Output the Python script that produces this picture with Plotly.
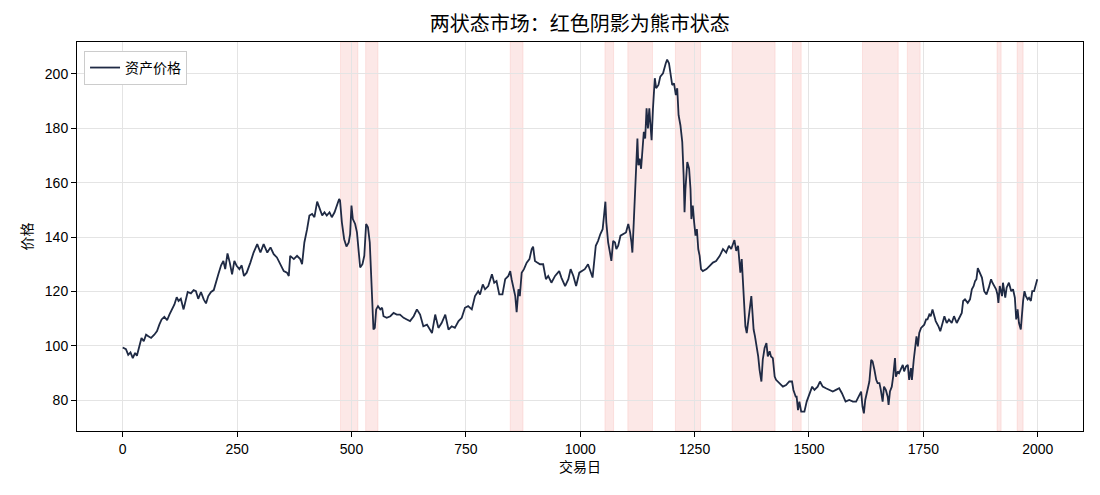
import plotly.graph_objects as go

# ---- data ----
days = [0, 7, 12, 17, 22, 27, 31, 36, 41, 46, 51, 56, 62, 69, 75, 80, 85, 91, 97, 102,
        108, 113, 118, 122, 127, 133, 142, 149, 155, 160, 165, 171, 177, 182, 187, 193,
        199, 204, 209, 215, 220, 224, 229, 234, 239, 244, 249, 255, 260, 265, 271,
        279, 286, 294, 301, 308, 316, 323, 330, 337, 345, 352, 359, 363, 366, 374, 381,
        388, 392, 397, 403, 408, 414, 419, 425, 430, 436, 441, 446, 452, 457, 463, 468,
        473, 475, 479, 484, 489, 494, 497, 500, 503, 508, 512, 516, 519, 524, 528, 532,
        536, 540, 543, 546, 548, 551, 554, 558, 563, 567, 570, 577, 585, 592, 599, 606,
        614, 621,
        628, 636, 643, 650, 657, 665, 672, 676, 683, 690, 697, 705, 712, 719, 726, 734,
        741, 748, 755, 763, 770, 777, 781, 787, 792, 799, 807, 812, 817, 823, 830, 836,
        843, 847, 850, 854, 858, 861, 865, 868, 872, 877, 883, 889, 894, 897, 901, 906,
        912, 919, 925, 930, 937, 945, 954, 959, 967, 974,
        979, 985, 991, 998, 1003, 1010, 1017, 1025, 1027, 1034, 1039, 1044, 1049, 1052,
        1055, 1057, 1061, 1065, 1068, 1072, 1076, 1079, 1083, 1088, 1094, 1100, 1105,
        1109, 1112, 1114, 1117, 1120, 1123, 1125, 1127, 1130, 1133, 1136, 1139, 1142,
        1145, 1148, 1151, 1153, 1156, 1159, 1163, 1166, 1171, 1175, 1181, 1187, 1190,
        1194, 1198, 1201, 1205, 1209, 1212, 1215, 1219, 1223, 1226, 1228, 1230, 1234,
        1238, 1241, 1243, 1246, 1249, 1252, 1255, 1258, 1261, 1264, 1268, 1276, 1283,
        1290, 1297, 1305, 1312, 1319,
        1325, 1330, 1337, 1341, 1345, 1348, 1350, 1353, 1356, 1359, 1361, 1364, 1367,
        1370, 1374, 1376, 1379, 1382, 1386, 1389, 1392, 1396, 1399, 1403, 1407, 1410,
        1414, 1417, 1421, 1425, 1428, 1436, 1443, 1450, 1457, 1463, 1466, 1471, 1473,
        1476, 1479, 1483, 1490, 1495, 1501, 1507, 1512, 1519, 1524, 1530, 1537, 1545,
        1552, 1559, 1566, 1572, 1580, 1588, 1596, 1603, 1609, 1614, 1617, 1620, 1623,
        1628, 1632, 1636, 1639, 1643, 1647, 1650, 1654, 1657, 1661, 1664, 1668, 1672,
        1674, 1677, 1681, 1684, 1688, 1690, 1694, 1697, 1701, 1705, 1708, 1712, 1716,
        1719, 1723, 1725, 1729, 1732, 1735, 1738, 1741, 1745, 1748, 1752, 1756, 1759,
        1763, 1766, 1770, 1774, 1777, 1783, 1787, 1792, 1796, 1801, 1806, 1812, 1817,
        1823, 1828, 1834, 1837, 1841, 1847, 1852, 1856, 1860, 1863, 1866, 1869, 1874,
        1878, 1883, 1888, 1893, 1898, 1901, 1905, 1909, 1912, 1914, 1917, 1922, 1924,
        1929, 1932, 1937, 1942, 1946, 1950, 1953, 1956, 1959, 1963, 1965, 1968, 1971,
        1974, 1978, 1981, 1985, 1988, 1992, 1996, 1999]

prices = [99.4, 98.8, 96.7, 97.6, 95.5, 97.4, 96.4, 99.8, 102.9, 101.7, 104.1, 103.5, 102.9,
          104.1, 105.4, 107.8, 109.7, 110.7, 109.4, 111.5, 113.4, 115.2, 117.9, 116.5, 117.3,
          113.4, 119.8, 119.3, 120.5, 120.1, 117.3, 119.8, 117.1, 115.6, 118.3, 119.8, 120.5,
          123.8, 126.3, 129.6, 131.2, 128.2, 134.0, 130.6, 126.3, 131.2, 129.4, 128.2, 129.6,
          125.7, 126.9,
          130.6, 134.3, 137.4, 134.3, 137.4, 134.3, 136.2, 133.7, 132.5, 130.0, 127.5, 126.9,
          125.7, 133.1, 131.9, 133.1, 131.9, 130.0, 138.0, 142.9, 147.9, 148.5, 147.3, 153.0,
          150.3, 147.9, 149.1, 147.9, 149.1, 147.3, 149.1, 151.6, 154.0, 153.4, 145.4, 139.2,
          136.5, 138.0, 141.1, 151.6, 146.6, 144.8, 141.7, 134.3, 128.8, 130.0, 133.1, 144.8,
          143.6, 138.0, 126.9, 118.3, 106.0, 106.6, 113.4, 114.6, 113.4, 114.0, 110.9, 110.3,
          110.9, 112.1, 111.5, 111.5, 110.3, 109.7,
          109.1, 110.9, 113.4, 111.5, 107.2, 107.8, 106.0, 104.7, 111.5, 106.6, 108.4, 111.5,
          106.0, 107.2, 106.6, 109.1, 110.3, 114.0, 114.6, 113.4, 118.3, 120.1, 118.9, 122.6,
          120.8, 122.0, 126.3, 123.2, 123.8, 118.9, 118.9, 124.5, 125.7, 127.5, 124.5, 120.8,
          118.3, 112.4, 120.8, 118.3, 126.9, 128.2, 130.6, 131.9, 135.6, 136.5, 131.2, 130.6,
          130.0, 130.0, 124.5, 125.7, 123.2, 125.7, 127.5, 125.0, 122.0, 124.5,
          128.2, 125.7, 122.0, 126.9, 127.5, 128.2, 130.0, 125.7, 125.1, 136.8, 138.6, 141.1,
          142.9, 147.9, 153.0, 145.4, 138.0, 134.3, 131.2, 138.6, 138.0, 135.6, 136.8, 140.5,
          141.1, 141.7, 144.8, 141.7, 138.0, 134.3, 145.4, 157.7, 165.1, 176.2, 166.4, 168.8,
          165.1, 172.5, 178.7, 176.2, 187.3, 179.9, 187.3, 182.4, 175.6, 187.3, 198.4, 194.7,
          195.9, 199.0, 200.2, 203.9, 205.2, 203.9, 198.4, 195.9, 196.5, 192.2, 194.7, 184.8,
          181.1, 175.0, 162.7, 149.1, 157.7, 167.6, 165.1, 157.7, 146.6, 151.6, 145.4, 140.5,
          142.9, 135.6, 133.1, 128.2, 127.5, 128.2, 129.4, 130.6, 131.2, 133.1, 135.6, 134.3,
          136.8, 135.6, 138.9, 134.9, 136.8, 131.9, 126.9, 131.9, 123.2, 114.6, 107.2, 104.7,
          108.4, 113.4, 118.3, 113.4, 106.0, 103.5, 99.8, 96.1, 91.2, 86.9, 94.9, 99.2, 101.0,
          96.1, 98.0, 96.1, 95.5, 88.7, 87.5, 86.3, 85.0, 85.6, 86.9, 86.9, 83.8, 81.3, 81.3,
          76.4, 79.5, 75.8, 75.8, 79.5, 82.6, 85.0, 83.8, 85.0, 86.9, 85.0, 84.4, 83.8, 83.2,
          83.8, 84.4, 82.6, 79.5, 80.1, 79.5, 79.5, 81.3, 83.2, 77.7, 75.2, 80.1, 83.8, 86.9,
          94.9, 94.3, 91.2, 87.5, 86.3, 86.3, 83.8, 79.5, 85.0, 83.8, 81.3,
          78.3, 83.2, 85.0, 88.7, 95.5, 88.7, 90.6, 90.0, 91.8, 93.0, 90.6, 92.4, 93.0, 87.5,
          91.8, 87.5, 94.9, 99.8, 103.5, 99.8, 104.7, 106.6, 107.2, 107.8, 109.7, 109.7, 111.5,
          110.9, 113.4, 110.3, 109.1, 107.2, 105.4, 108.4, 110.9, 108.4, 109.7, 108.4, 110.9,
          108.4, 110.3, 112.1, 116.5, 117.1, 115.8, 117.1, 120.8, 122.0, 123.8, 124.5, 128.6,
          126.9, 125.1, 120.1, 118.9, 121.4, 124.5, 123.2, 122.0, 120.8, 118.9, 115.8, 122.0,
          118.3, 123.2, 117.7, 121.4, 123.2, 120.1, 120.8, 117.7, 109.7, 113.4, 108.4, 106.0,
          110.9, 116.5, 120.1, 118.3, 117.1, 117.7, 116.5, 120.1, 120.1, 123.2, 124.5]

bear_starts = [476, 531, 847, 1054, 1104, 1208, 1332, 1464, 1617, 1715, 1911, 1955]
bear_ends = [514, 558, 875, 1073, 1158, 1263, 1426, 1483, 1695, 1743, 1920, 1968]

x_ticks = [0, 250, 500, 750, 1000, 1250, 1500, 1750, 2000]

title_text = "两状态市场：红色阴影为熊市状态"
x_label = "交易日"
y_label = "价格"
series_name = "资产价格"

# ---- figure ----
FONT = "Liberation Sans, Noto Sans CJK SC, sans-serif"

fig = go.Figure()
fig.add_trace(go.Scatter(x=days, y=prices, mode="lines", name=series_name,
                         line=dict(color="#1f2a44", width=1.8)))

for s, e in zip(bear_starts, bear_ends):
    fig.add_shape(type="rect", xref="x", yref="paper", x0=s, x1=e, y0=0, y1=1,
                  fillcolor="rgba(235,80,70,0.13)",
                  line=dict(color="rgba(235,80,70,0.12)", width=1),
                  layer="below")

n = max(days) - min(days)
xpad = 0.05 * n
ymin, ymax = min(prices), max(prices)
ypad = 0.05 * (ymax - ymin)

axis_common = dict(showline=True, linecolor="black", linewidth=1, mirror=True,
                   ticks="outside", ticklen=5, tickcolor="black",
                   showgrid=True, gridcolor="#e4e4e4", gridwidth=1,
                   zeroline=False, tickfont=dict(size=14, color="black", family=FONT))

fig.update_layout(
    width=1100, height=495,
    margin=dict(l=77, r=17, t=42, b=64),
    paper_bgcolor="white", plot_bgcolor="white",
    font=dict(family=FONT, color="black"),
    title=dict(text=title_text, x=0.527, xanchor="center", y=0.951, yanchor="middle",
               font=dict(size=20, family=FONT, color="black")),
    xaxis=dict(range=[min(days) - xpad, max(days) + xpad], tickvals=x_ticks,
               title=dict(text=x_label, font=dict(size=14), standoff=6), **axis_common),
    yaxis=dict(range=[ymin - ypad, ymax + ypad], dtick=20,
               title=dict(text=y_label, font=dict(size=14), standoff=8), **axis_common),
    legend=dict(x=0.007, y=0.977, xanchor="left", yanchor="top",
                bgcolor="white", bordercolor="#cccccc", borderwidth=1,
                font=dict(size=14, family=FONT)),
    showlegend=True,
)

fig.write_html("out.html")
